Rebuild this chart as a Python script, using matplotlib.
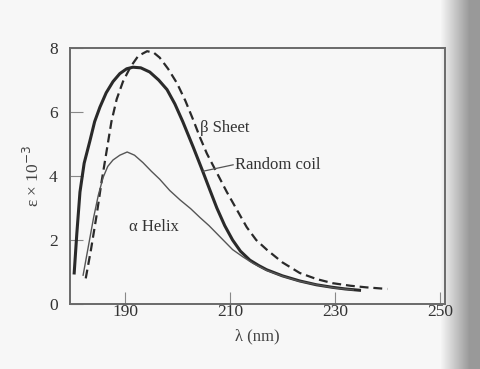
import numpy as np
import matplotlib
matplotlib.use("Agg")
import matplotlib.pyplot as plt

plt.rcParams['font.family'] = ['Liberation Serif', 'DejaVu Serif']

# Absorption spectra (wavelength nm, epsilon x 10^-3)
coil_wl = [180.3, 180.8, 181.4, 182.2, 183.3, 184.2, 185.2, 186.4, 187.7, 189.0,
           190.3, 191.5, 193.0, 194.7, 196.4, 198.0, 199.5, 201.0, 203.0, 204.8,
           206.2, 207.5, 209.0, 210.5, 212.0, 213.8, 215.5, 217.0, 220.0, 223.3,
           226.5, 229.6, 232.0, 234.7]
coil_eps = [0.97, 2.2, 3.5, 4.4, 5.1, 5.7, 6.15, 6.6, 6.95, 7.2,
            7.35, 7.4, 7.38, 7.25, 7.0, 6.7, 6.25, 5.7, 4.9, 4.15,
            3.55, 3.0, 2.45, 2.0, 1.65, 1.37, 1.2, 1.07, 0.88, 0.72,
            0.6, 0.52, 0.47, 0.43]

sheet_wl = [182.5, 183.5, 184.6, 185.5, 186.5, 187.4, 188.4, 189.6, 191.0, 192.5,
            194.2, 195.5, 196.6, 198.2, 199.9, 201.5, 203.0, 204.3, 205.6, 207.5,
            209.4, 211.3, 213.2, 215.0, 217.0, 220.0, 223.3, 226.5, 229.6, 233.0,
            236.0, 240.0]
sheet_eps = [0.8, 1.7, 2.8, 3.8, 4.8, 5.7, 6.4, 6.95, 7.4, 7.75,
             7.9, 7.85, 7.7, 7.35, 6.9, 6.35, 5.75, 5.2, 4.7, 4.1,
             3.5, 2.95, 2.4, 2.0, 1.7, 1.3, 0.97, 0.78, 0.65, 0.57,
             0.52, 0.47]

helix_wl = [182.0, 183.0, 184.0, 184.9, 185.8, 186.7, 187.7, 189.0, 190.4, 191.8,
            193.4, 195.0, 196.6, 198.5, 200.5, 202.5, 204.3, 206.0, 207.5, 209.0,
            210.5, 212.5, 214.4, 217.0, 220.0, 223.0, 226.5, 230.0, 233.5]
helix_eps = [0.9, 1.8, 2.7, 3.4, 3.95, 4.3, 4.5, 4.65, 4.75, 4.65,
             4.42, 4.15, 3.9, 3.55, 3.25, 2.98, 2.7, 2.45, 2.2, 1.95,
             1.7, 1.47, 1.27, 1.05, 0.87, 0.72, 0.6, 0.5, 0.44]

xticks = [190, 210, 230, 250]
yticks = [0, 2, 4, 6, 8]

fig = plt.figure(figsize=(4.8, 3.69), dpi=100, facecolor='#f6f6f6')

# page shadow along the right edge of the scan
bg = fig.add_axes([0, 0, 1, 1], zorder=-1)
bg.axis('off')
shade = np.full((10, 480), 0.965)
shade[:, 440:470] = np.linspace(0.965, 0.6, 30)
shade[:, 470:] = 0.6
bg.imshow(shade, cmap='gray', vmin=0, vmax=1, aspect='auto')

ax = fig.add_axes([70 / 480, 1 - 304 / 369, 375 / 480, 256 / 369])
ax.set_facecolor('none')

ax.plot(coil_wl, coil_eps, color='#2a2a2a', lw=2.2, solid_joinstyle='round')
ax.plot(sheet_wl, sheet_eps, color='#2a2a2a', lw=1.6, ls=(0, (4, 2.2)))
ax.plot(helix_wl, helix_eps, color='#555555', lw=1.0)

ax.set_xlim(179.5, 251)
ax.set_ylim(0, 8)
ax.set_xticks(xticks)
ax.set_yticks(yticks)
ax.tick_params(direction='in', length=9, width=0.8, colors='#888888',
               labelsize=12.5, labelcolor='#333333')
ax.tick_params(axis='y', pad=9)
ax.tick_params(axis='x', pad=0)
for s in ax.spines.values():
    s.set_color('#6a6a6a')
    s.set_linewidth(1.4)

ax.set_xlabel('λ (nm)', fontsize=12, color='#444444', labelpad=6)
ax.set_ylabel('ε × 10$^{-3}$', fontsize=12.5, color='#444444', labelpad=4)

ax.text(204.3, 5.5, 'β Sheet', fontsize=12, color='#333333', va='center')
ax.text(211.0, 4.35, 'Random coil', fontsize=12, color='#333333', va='center')
ax.plot([204.9, 210.6], [4.15, 4.35], color='#555555', lw=0.9)
ax.text(190.8, 2.4, 'α Helix', fontsize=12, color='#333333', va='center')

fig.savefig('out.png', dpi=100, facecolor=fig.get_facecolor())
